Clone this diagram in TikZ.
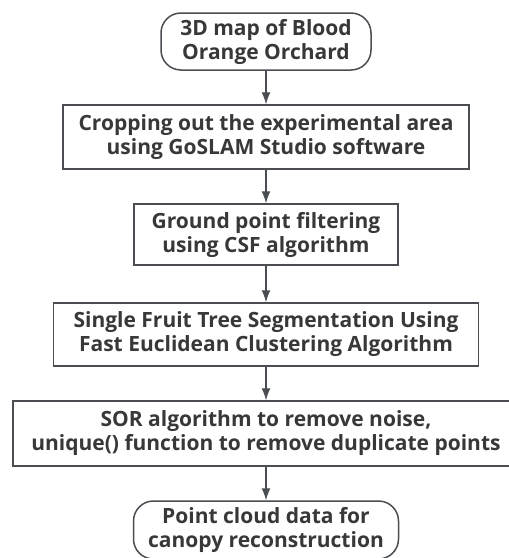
\documentclass[tikz,border=0pt]{standalone}
\usepackage{fontspec}
\setmainfont{Open Sans}
\usetikzlibrary{arrows.meta}
\definecolor{inkgray}{HTML}{383838}
\definecolor{linegray}{HTML}{4A4E52}

\begin{document}
\begin{tikzpicture}[x=1pt,y=-1pt,
    procbox/.style={draw=linegray, line width=1.5pt, fill=white, align=center, inner sep=0pt,
        text=inkgray, font=\fontsize{21}{24}\selectfont\bfseries},
    termbox/.style={procbox, rounded corners=20pt},
    flowarrow/.style={draw=linegray, line width=1.3pt, -{Latex[length=12pt,width=9pt]}}]
    \useasboundingbox (0,0) rectangle (509,558);
    % the six steps, top to bottom
    \node[termbox, minimum width=210, minimum height=57] (map) at (266,41.5) {3D map of Blood\\Orange Orchard};
    \node[procbox, minimum width=406, minimum height=64] (crop) at (266,137) {Cropping out the experimental area\\using GoSLAM Studio software};
    \node[procbox, minimum width=264, minimum height=61] (ground) at (266,234.5) {Ground point filtering\\using CSF algorithm};
    \node[procbox, minimum width=425, minimum height=63] (seg) at (266,334.5) {Single Fruit Tree Segmentation Using\\Fast Euclidean Clustering Algorithm};
    \node[procbox, minimum width=506, minimum height=65] (noise) at (266,433.5) {SOR algorithm to remove noise,\\unique() function to remove duplicate points};
    \node[termbox, minimum width=265, minimum height=58] (cloud) at (266,530) {Point cloud data for\\canopy reconstruction};
    % arrows
    \draw[flowarrow] (map) -- (crop);
    \draw[flowarrow] (crop) -- (ground);
    \draw[flowarrow] (ground) -- (seg);
    \draw[flowarrow] (seg) -- (noise);
    \draw[flowarrow] (noise) -- (cloud);
\end{tikzpicture}
\end{document}
